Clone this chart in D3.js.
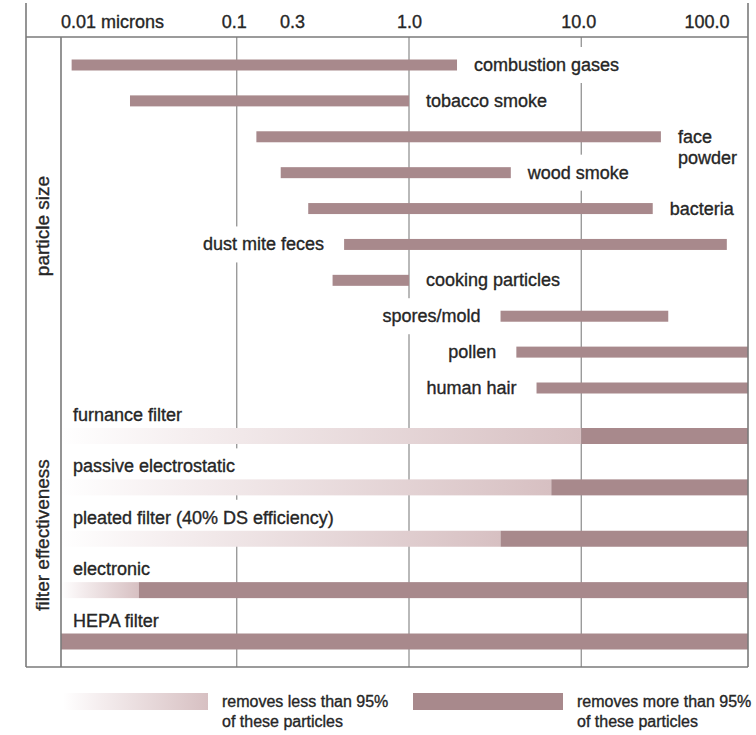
<!DOCTYPE html>
<html><head><meta charset="utf-8">
<script src="https://cdn.jsdelivr.net/npm/d3@7"></script>
<style>
body{margin:0;background:#fff}
svg{display:block}
text{font-family:"Liberation Sans",Arial,sans-serif;fill:#262626;stroke:#262626;stroke-width:0.35px}
</style>
</head><body>
<svg id="c" width="756" height="735"></svg>
<script>
// ---------- data ----------
const tickValues = [0.01, 0.1, 0.3, 1, 10, 100];
const tickLabels = ["0.01 microns", "0.1", "0.3", "1.0", "10.0", "100.0"];
const gridValues = [0.1, 1, 10];

const particleNames = ["combustion gases", "tobacco smoke", "face powder", "wood smoke", "bacteria",
  "dust mite feces", "cooking particles", "spores/mold", "pollen", "human hair"];
const particleMin = [0.011, 0.024, 0.13, 0.18, 0.26, 0.42, 0.36, 3.4, 4.2, 5.5];
const particleMax = [1.9, 1.0, 29, 3.9, 26, 70, 1.0, 32, 100, 100];

const filterNames = ["furnance filter", "passive electrostatic", "pleated filter (40% DS efficiency)",
  "electronic", "HEPA filter"];
const filterThreshold = [10, 6.7, 3.4, 0.027, 0.001]; // microns above which >95% is removed

const sectionTitles = ["particle size", "filter effectiveness"];
const legendLess = ["removes less than 95%", "of these particles"];
const legendMore = ["removes more than 95%", "of these particles"];

// ---------- layout ----------
const svg = d3.select("#c");
const L0 = 26, L1 = 61, R = 748, T = 37, B = 667, TOP = 3;
const dark = "#a8898c";
const lineCol = "#8a8a8a";

const x = d3.scaleLog().domain([0.01, 100]).range([64.5, 753.5]);
const yP = d3.scalePoint().domain(particleNames).range([65, 388]);
const yF = d3.scalePoint().domain(filterNames).range([436, 641.5]);

const defs = svg.append("defs");
const grad = defs.append("linearGradient").attr("id", "fade").attr("x1", 0).attr("x2", 1).attr("y1", 0).attr("y2", 0);
grad.append("stop").attr("offset", 0).attr("stop-color", "#ffffff");
grad.append("stop").attr("offset", 0.25).attr("stop-color", "#f5eeef");
grad.append("stop").attr("offset", 1).attr("stop-color", "#d7c0c2");
defs.append("clipPath").attr("id", "plot").append("rect")
  .attr("x", L1).attr("y", T).attr("width", R - L1).attr("height", B - T);

// layer order
const gridG = svg.append("g");
const bgG = svg.append("g");
const barG = svg.append("g").attr("clip-path", "url(#plot)");
const frameG = svg.append("g").attr("stroke", "#7a7a7a").attr("stroke-width", 1.6).attr("fill", "none");
const textG = svg.append("g");

// grid lines
gridG.selectAll("line").data(gridValues).join("line")
  .attr("x1", d => x(d)).attr("x2", d => x(d)).attr("y1", T).attr("y2", B)
  .attr("stroke", lineCol).attr("stroke-width", 1.2);

// frame
frameG.append("line").attr("x1", L0).attr("x2", L0).attr("y1", TOP).attr("y2", B);
frameG.append("line").attr("x1", R).attr("x2", R).attr("y1", TOP).attr("y2", B);
frameG.append("line").attr("x1", L0).attr("x2", R).attr("y1", T).attr("y2", T);
frameG.append("line").attr("x1", L0).attr("x2", R).attr("y1", B).attr("y2", B);
frameG.append("line").attr("x1", L1).attr("x2", L1).attr("y1", T).attr("y2", B);

// axis labels (top)
const tickNudge = {0.01: -4, 0.1: -3, 0.3: -27, 1: 0, 10: -3, 100: -47};
const axis = d3.axisTop(x).tickValues(tickValues).tickSize(0)
  .tickFormat((d, i) => tickLabels[i]);
const ag = textG.append("g").attr("transform", "translate(0,31)").call(axis);
ag.select(".domain").remove();
ag.selectAll("text").attr("font-size", 18).attr("font-family", "Liberation Sans, Arial, sans-serif")
  .attr("fill", "#262626").attr("dy", 0)
  .attr("x", d => tickNudge[d])
  .attr("text-anchor", d => d === 0.01 ? "start" : "middle");

// particle bars
const pData = particleNames.map((n, i) => ({name: n, min: particleMin[i], max: particleMax[i]}));
barG.selectAll("rect.p").data(pData).join("rect").attr("class", "p")
  .attr("x", d => x(d.min)).attr("width", d => x(d.max) - x(d.min))
  .attr("y", d => yP(d.name) - 5.5).attr("height", 11)
  .attr("fill", dark);

// filter bars
const fData = filterNames.map((n, i) => ({name: n, t: filterThreshold[i]}));
fData.forEach(d => {
  const xs = Math.max(L1, x(d.t));
  if (xs > L1) barG.append("rect").attr("x", L1).attr("width", xs - L1)
    .attr("y", yF(d.name) - 8).attr("height", 16).attr("fill", "url(#fade)");
  barG.append("rect").attr("x", xs).attr("width", R - xs)
    .attr("y", yF(d.name) - 8).attr("height", 16).attr("fill", dark);
});

// labels with knock-out backgrounds (behind bars, above grid)
function label(txt, xx, yy, anchor) {
  const t = textG.append("text").attr("x", xx).attr("y", yy).attr("font-size", 18)
    .attr("text-anchor", anchor).text(txt);
  const b = t.node().getBBox();
  bgG.append("rect").attr("fill", "#fff")
    .attr("x", b.x - 3).attr("y", b.y - 8).attr("width", b.width + 6).attr("height", b.height + 16);
  return t;
}
const leftLabelled = new Set(["dust mite feces", "spores/mold", "pollen", "human hair"]);
pData.forEach(d => {
  const yy = yP(d.name) + 6;
  if (leftLabelled.has(d.name)) {
    label(d.name, x(d.min) - 20, yy, "end");
  } else if (d.name === "face powder") {
    const t = textG.append("text").attr("x", x(d.max) + 17).attr("y", yy).attr("font-size", 18);
    t.append("tspan").attr("x", x(d.max) + 17).text("face");
    t.append("tspan").attr("x", x(d.max) + 17).attr("dy", 21).text("powder");
    const b = t.node().getBBox();
    bgG.append("rect").attr("fill", "#fff")
      .attr("x", b.x - 3).attr("y", b.y - 4).attr("width", b.width + 6).attr("height", b.height + 8);
  } else {
    label(d.name, x(d.max) + 17, yy, "start");
  }
});
fData.forEach(d => {
  label(d.name, 73, yF(d.name) - 15, "start");
});

// section titles
textG.append("text").attr("transform", "translate(49,226) rotate(-90)")
  .attr("text-anchor", "middle").attr("font-size", 19).text(sectionTitles[0]);
textG.append("text").attr("transform", "translate(49,535) rotate(-90)")
  .attr("text-anchor", "middle").attr("font-size", 19).text(sectionTitles[1]);

// legend
const leg = svg.append("g");
leg.append("rect").attr("x", 63).attr("y", 693).attr("width", 145).attr("height", 17).attr("fill", "url(#fade)");
leg.append("rect").attr("x", 413).attr("y", 693).attr("width", 150).attr("height", 17).attr("fill", dark);
[[222, legendLess], [577, legendMore]].forEach(([lx, lines]) => {
  lines.forEach((s, i) => leg.append("text").attr("x", lx).attr("y", 707 + i * 20)
    .attr("font-size", 16).text(s));
});
</script>
</body></html>
